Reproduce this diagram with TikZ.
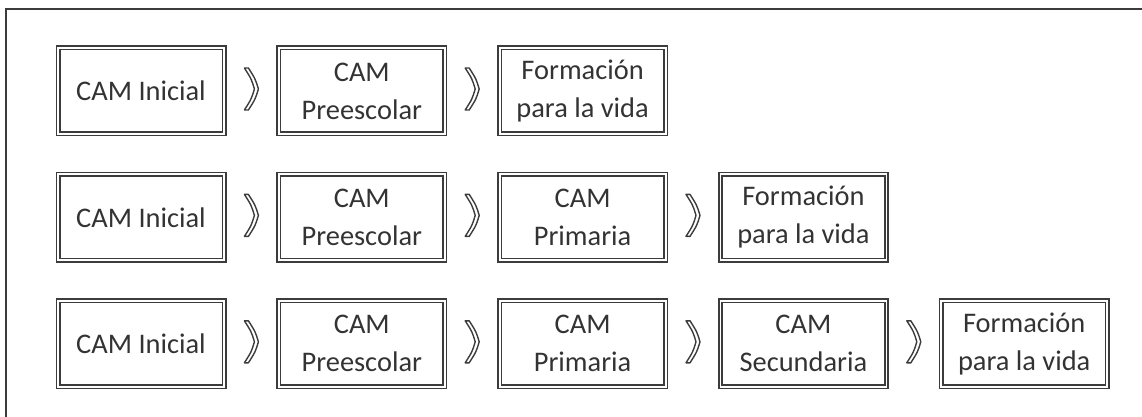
\documentclass[tikz,border=0pt]{standalone}
\usepackage{fontspec}
\setmainfont{Carlito}
\usepackage{tikz}
\usetikzlibrary{positioning}
\definecolor{framegray}{HTML}{3C3C3C}
\definecolor{textgray}{HTML}{333333}

\begin{document}
\begin{tikzpicture}[x=0.5pt, y=-0.5pt,
  stagebox/.style={draw=framegray, line width=0.8pt, double=white,
    double distance=0.9pt, minimum width=83pt, minimum height=43pt,
    inner sep=0pt, align=center, text=textgray,
    font=\fontsize{14.2}{19}\selectfont},
  chev/.pic={\draw[framegray, line width=0.7pt, line join=round, fill=white]
    (-7,-21) -- (-3,-21) .. controls (4,-10) .. (7,0)
    .. controls (4,10) .. (-3,21) -- (-7,21)
    .. controls (0,10) .. (3,0) .. controls (0,-10) .. cycle;},
  node distance=19.4pt and 26.6pt]
  % page in reference pixels, y downwards
  \useasboundingbox (0,0) rectangle (1142,417);

  % outer frame (right and bottom edges fall outside the picture)
  \draw[framegray, line width=1.1pt] (6,417) -- (6,9) -- (1142,9);

  % row 1
  \node[stagebox] (ini1) at (141,91) {CAM Inicial};
  \node[stagebox, right=of ini1] (pre1) {CAM\\Preescolar};
  \node[stagebox, right=of pre1] (vida1) {Formación\\para la vida};

  % row 2
  \node[stagebox, below=of ini1] (ini2) {CAM Inicial};
  \node[stagebox, right=of ini2] (pre2) {CAM\\Preescolar};
  \node[stagebox, right=of pre2] (pri2) {CAM\\Primaria};
  \node[stagebox, right=of pri2] (vida2) {Formación\\para la vida};

  % row 3
  \node[stagebox, below=of ini2] (ini3) {CAM Inicial};
  \node[stagebox, right=of ini3] (pre3) {CAM\\Preescolar};
  \node[stagebox, right=of pre3] (pri3) {CAM\\Primaria};
  \node[stagebox, right=of pri3] (sec3) {CAM\\Secundaria};
  \node[stagebox, right=of sec3] (vida3) {Formación\\para la vida};

  % chevrons between the stages
  \foreach \a/\b in {ini1/pre1, pre1/vida1,
                     ini2/pre2, pre2/pri2, pri2/vida2,
                     ini3/pre3, pre3/pri3, pri3/sec3, sec3/vida3} {
    \path (\a) -- coordinate[midway] (m) (\b);
    \pic at ([yshift=1pt]m) {chev};
  }

\end{tikzpicture}
\end{document}
